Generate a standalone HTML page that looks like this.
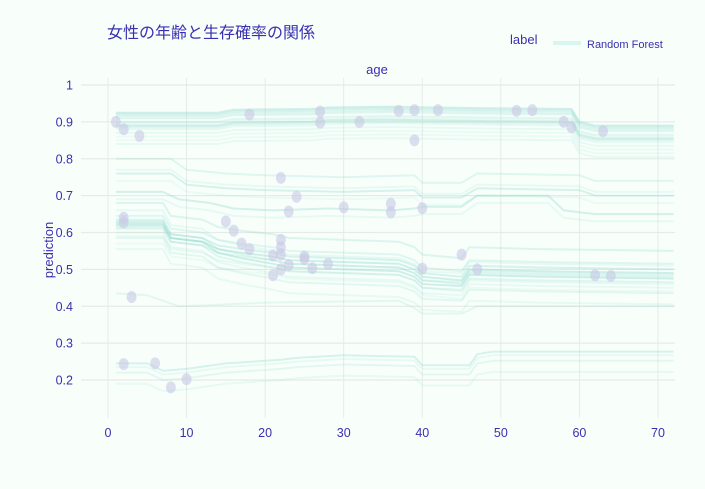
<!DOCTYPE html>
<html><head><meta charset="utf-8"><style>
body{margin:0;background:#f8fffb;}
svg{display:block;font-family:"Liberation Sans","Noto Sans CJK JP",sans-serif;}
</style></head><body>
<svg id="s" width="705" height="489" viewBox="0 0 705 489">
<rect width="705" height="489" fill="#f8fffb"/>
<g id="grid"></g>
<g id="lines" fill="none" stroke-linejoin="round"></g>
<g id="dots"></g>
<g id="ticks" fill="#3a2fb0" font-size="12.5"></g>
<text x="107" y="38" font-size="16" fill="#3a2fb0">女性の年齢と生存確率の関係</text>
<text x="510" y="44" font-size="13" fill="#3a2fb0">label</text>
<line x1="553" y1="43" x2="581" y2="43" stroke="#b8ece6" stroke-opacity="0.5" stroke-width="4"/>
<text x="587" y="48" font-size="11" fill="#3a2fb0">Random Forest</text>
<text x="377" y="74" font-size="13" fill="#3a2fb0" text-anchor="middle">age</text>
<text transform="translate(53,250) rotate(-90)" font-size="13" fill="#3a2fb0" text-anchor="middle">prediction</text>
</svg>
<script>
const NS="http://www.w3.org/2000/svg";
const X=a=>108+a*7.857, Y=v=>85+(1-v)*368.75;
function el(p,t,at){const e=document.createElementNS(NS,t);for(const k in at)e.setAttribute(k,at[k]);document.getElementById(p).appendChild(e);return e;}
for(let a=0;a<=70;a+=10){el('grid','line',{x1:X(a),x2:X(a),y1:78,y2:418,stroke:'#e6ebe8','stroke-width':1});
 const t=el('ticks','text',{x:X(a),y:437,'text-anchor':'middle'});t.textContent=a;}
for(let i=2;i<=10;i++){const v=i/10;el('grid','line',{x1:81,x2:675,y1:Y(v),y2:Y(v),stroke:'#e6ebe8','stroke-width':1.3});
 const t=el('ticks','text',{x:73,y:Y(v)+4.5,'text-anchor':'end'});t.textContent=v==1?'1':v.toFixed(1);}
const T={
A:[[1,0],[14,0],[16,.008],[26,.01],[28,.014],[36,.016],[48,.012],[59,.01],[60,-.025],[62,-.035],[72,-.035]],
B:[[1,0],[7,0],[8,-.035],[12,-.045],[14,-.065],[17,-.075],[21,-.085],[23,-.095],[37,-.105],[39,-.12],[40,-.14],[45,-.15],[46,-.12],[55,-.125],[72,-.13]],
B2:[[1,0],[7,0],[8,-.04],[12,-.05],[14,-.08],[17,-.095],[21,-.11],[23,-.12],[37,-.13],[39,-.145],[40,-.165],[45,-.17],[46,-.14],[55,-.145],[72,-.15]],
C:[[1,0],[7,0],[9,-.02],[13,-.03],[16,-.045],[21,-.05],[28,-.045],[36,-.05],[39,-.045],[40,-.04],[45,-.04],[47,-.01],[56,-.01],[58,-.05],[62,-.06],[72,-.06]],
D:[[1,0],[5,0],[7,-.02],[10,-.015],[15,0],[22,.01],[24,.015],[30,.022],[39,.018],[40,-.005],[46,-.005],[47,.025],[49,.032],[72,.032]],
F:[[1,0],[5,-.005],[7,-.02],[9,-.035],[12,-.033],[20,-.025],[37,-.02],[39,-.04],[40,-.055],[45,-.055],[47,-.035],[72,-.035]],
E:[[1,0],[8,0],[10,-.03],[15,-.04],[20,-.045],[30,-.05],[39,-.045],[40,-.065],[45,-.065],[47,-.04],[60,-.045],[62,-.06],[72,-.06]]};
const curves=[
['A',.925,.5],['A',.92,.4],['A',.915,.3],['A',.91,.3],['A',.9,.25],['A',.895,.2],['A',.89,.5],['A',.885,.3],['A',.88,.2],['A',.87,.2],['A',.86,.15],['A',.85,.15],['A',.84,.2],
['E',.8,.3],['E',.77,.2],['E',.76,.4],['E',.74,.15],['C',.71,.45],['C',.69,.2],['B',.68,.35],['B2',.66,.2],
['B',.645,.3],['B2',.635,.3],['B',.63,.4],['B2',.625,.5],['B',.62,.5],['B2',.615,.3],['B',.61,.3],['B2',.6,.2],['B',.59,.2],['B2',.585,.25],['B',.57,.15],['B2',.555,.2],
['F',.435,.25],['D',.245,.4],['D',.235,.2],['D',.22,.25],['D',.19,.2]];
for(const [k,b,o] of curves){const pts=T[k];let d='';
 for(let i=0;i<pts.length;i++){d+=(i?'L':'M')+X(pts[i][0]).toFixed(1)+' '+Y(b+pts[i][1]).toFixed(1);}
 el('lines','path',{d,stroke:'#8fd8ce','stroke-opacity':o*0.8,'stroke-width':2});}
const dots=[[1,.9],[2,.88],[4,.862],[18,.92],[27,.928],[27,.898],[32,.9],[37,.93],[39,.932],[42,.932],[52,.93],[54,.932],[58,.9],[59,.885],[63,.875],[39,.85],[22,.748],[24,.697],[23,.657],[30,.668],[36,.678],[36,.655],[40,.666],[2,.64],[2,.627],[15,.63],[16,.605],[17,.57],[18,.555],[22,.58],[22,.56],[22,.54],[21,.538],[25,.535],[25,.528],[23,.512],[22,.5],[21,.484],[26,.503],[28,.515],[40,.502],[45,.54],[47,.5],[62,.484],[64,.482],[3,.425],[2,.243],[6,.245],[8,.18],[10,.202]];
for(const [a,v] of dots)el('dots','ellipse',{cx:X(a),cy:Y(v),rx:5,ry:6,fill:'#c8c8e4','fill-opacity':.6});
</script>
</body></html>
